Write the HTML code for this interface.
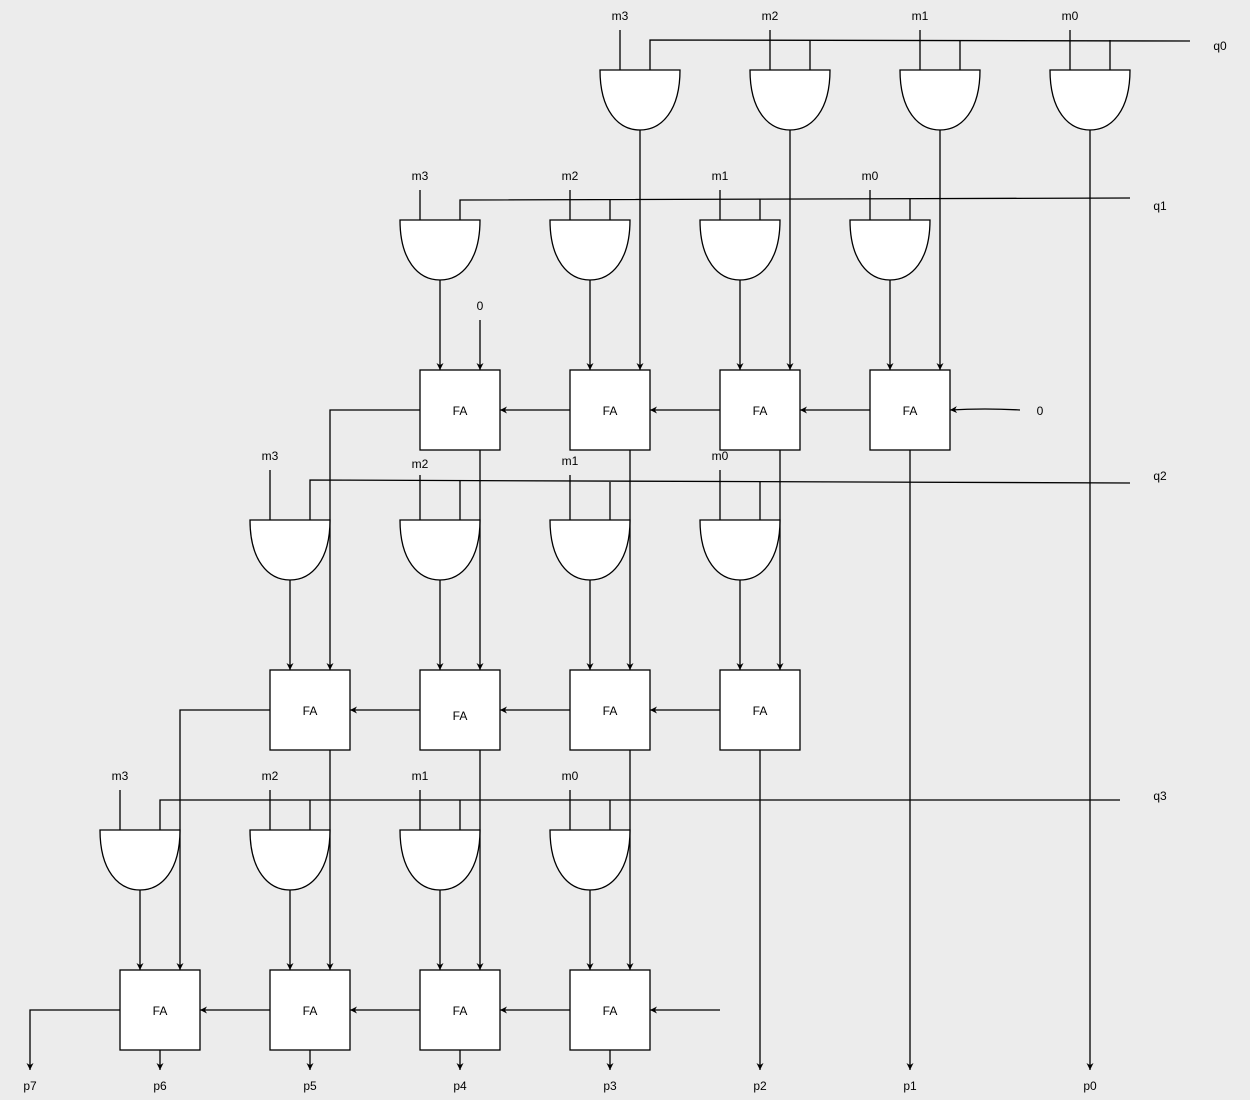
<!DOCTYPE html>
<html><head><meta charset="utf-8"><style>
html,body{margin:0;padding:0;background:#ececec;}
svg{display:block;}
text{font-family:"Liberation Sans",sans-serif;font-size:12px;fill:#000;}
</style></head><body>
<svg width="1250" height="1100" viewBox="0 0 1250 1100" xmlns="http://www.w3.org/2000/svg">
<defs>
<marker id="a" viewBox="0 0 10 10" refX="10" refY="5" markerWidth="7" markerHeight="7" orient="auto" markerUnits="userSpaceOnUse">
<path d="M0,0 L10,5 L0,10 L3,5 Z" fill="#000"/>
</marker>
</defs>
<rect width="1250" height="1100" fill="#ececec"/>
<g id="all" stroke="#000" stroke-width="1.3" fill="none">
<!-- q lines -->
<polyline points="650,70 650,40 1190,41"/>
<polyline points="460,220 460,200 1130,198"/>
<polyline points="310,520 310,480 1130,483"/>
<polyline points="160,830 160,800 1120,800"/>
<!-- m inputs and q taps -->
<path d="M620,30V70 M770,30V70 M920,30V70 M1070,30V70 M810,40V70 M960,40V70 M1110,40V70"/>
<path d="M420,190V220 M570,190V220 M720,190V220 M870,190V220 M610,200V220 M760,199V220 M910,199V220"/>
<path d="M270,470V520 M420,475V520 M570,475V520 M720,470V520 M460,481V520 M610,482V520 M760,482V520"/>
<path d="M120,790V830 M270,790V830 M420,790V830 M570,790V830 M310,800V830 M460,800V830 M610,800V830"/>
<!-- gate outputs -->
<g marker-end="url(#a)">
<path d="M640,130V370"/><path d="M790,130V370"/><path d="M940,130V370"/><path d="M1090,130V1070"/>
<path d="M440,280V370"/><path d="M590,280V370"/><path d="M740,280V370"/><path d="M890,280V370"/>
<path d="M480,320V370"/>
<path d="M870,410H800"/><path d="M720,410H650"/><path d="M570,410H500"/><path d="M1020,410Q985,408 950,410"/>
<path d="M420,410H330V670"/>
<path d="M480,450V670"/><path d="M630,450V670"/><path d="M780,450V670"/><path d="M910,450V1070"/>
<path d="M290,580V670"/><path d="M440,580V670"/><path d="M590,580V670"/><path d="M740,580V670"/>
<path d="M720,710H650"/><path d="M570,710H500"/><path d="M420,710H350"/>
<path d="M270,710H180V970"/>
<path d="M330,750V970"/><path d="M480,750V970"/><path d="M630,750V970"/><path d="M760,750V1070"/>
<path d="M140,890V970"/><path d="M290,890V970"/><path d="M440,890V970"/><path d="M590,890V970"/>
<path d="M720,1010H650"/><path d="M570,1010H500"/><path d="M420,1010H350"/><path d="M270,1010H200"/>
<path d="M120,1010H30V1070"/>
<path d="M160,1050V1070"/><path d="M310,1050V1070"/><path d="M460,1050V1070"/><path d="M610,1050V1070"/>
</g>
<!-- gates -->
<g fill="#fff">
<path d="M600,70H680C680,110 662,130 640,130C618,130 600,110 600,70Z"/>
<path d="M750,70H830C830,110 812,130 790,130C768,130 750,110 750,70Z"/>
<path d="M900,70H980C980,110 962,130 940,130C918,130 900,110 900,70Z"/>
<path d="M1050,70H1130C1130,110 1112,130 1090,130C1068,130 1050,110 1050,70Z"/>
<path d="M400,220H480C480,260 462,280 440,280C418,280 400,260 400,220Z"/>
<path d="M550,220H630C630,260 612,280 590,280C568,280 550,260 550,220Z"/>
<path d="M700,220H780C780,260 762,280 740,280C718,280 700,260 700,220Z"/>
<path d="M850,220H930C930,260 912,280 890,280C868,280 850,260 850,220Z"/>
<path d="M250,520H330C330,560 312,580 290,580C268,580 250,560 250,520Z"/>
<path d="M400,520H480C480,560 462,580 440,580C418,580 400,560 400,520Z"/>
<path d="M550,520H630C630,560 612,580 590,580C568,580 550,560 550,520Z"/>
<path d="M700,520H780C780,560 762,580 740,580C718,580 700,560 700,520Z"/>
<path d="M100,830H180C180,870 162,890 140,890C118,890 100,870 100,830Z"/>
<path d="M250,830H330C330,870 312,890 290,890C268,890 250,870 250,830Z"/>
<path d="M400,830H480C480,870 462,890 440,890C418,890 400,870 400,830Z"/>
<path d="M550,830H630C630,870 612,890 590,890C568,890 550,870 550,830Z"/>
<!-- FA boxes -->
<rect x="420" y="370" width="80" height="80"/><rect x="570" y="370" width="80" height="80"/>
<rect x="720" y="370" width="80" height="80"/><rect x="870" y="370" width="80" height="80"/>
<rect x="270" y="670" width="80" height="80"/><rect x="420" y="670" width="80" height="80"/>
<rect x="570" y="670" width="80" height="80"/><rect x="720" y="670" width="80" height="80"/>
<rect x="120" y="970" width="80" height="80"/><rect x="270" y="970" width="80" height="80"/>
<rect x="420" y="970" width="80" height="80"/><rect x="570" y="970" width="80" height="80"/>
</g>
</g>
<g text-anchor="middle">
<text x="460" y="415">FA</text><text x="610" y="415">FA</text><text x="760" y="415">FA</text><text x="910" y="415">FA</text>
<text x="310" y="715">FA</text><text x="460" y="720">FA</text><text x="610" y="715">FA</text><text x="760" y="715">FA</text>
<text x="160" y="1015">FA</text><text x="310" y="1015">FA</text><text x="460" y="1015">FA</text><text x="610" y="1015">FA</text>
<text x="620" y="20">m3</text><text x="770" y="20">m2</text><text x="920" y="20">m1</text><text x="1070" y="20">m0</text>
<text x="420" y="180">m3</text><text x="570" y="180">m2</text><text x="720" y="180">m1</text><text x="870" y="180">m0</text>
<text x="270" y="460">m3</text><text x="420" y="468">m2</text><text x="570" y="465">m1</text><text x="720" y="460">m0</text>
<text x="120" y="780">m3</text><text x="270" y="780">m2</text><text x="420" y="780">m1</text><text x="570" y="780">m0</text>
<text x="1220" y="50">q0</text><text x="1160" y="210">q1</text><text x="1160" y="480">q2</text><text x="1160" y="800">q3</text>
<text x="480" y="310">0</text><text x="1040" y="415">0</text>
<text x="30" y="1090">p7</text><text x="160" y="1090">p6</text><text x="310" y="1090">p5</text><text x="460" y="1090">p4</text>
<text x="610" y="1090">p3</text><text x="760" y="1090">p2</text><text x="910" y="1090">p1</text><text x="1090" y="1090">p0</text>
</g>
</svg>
</body></html>
